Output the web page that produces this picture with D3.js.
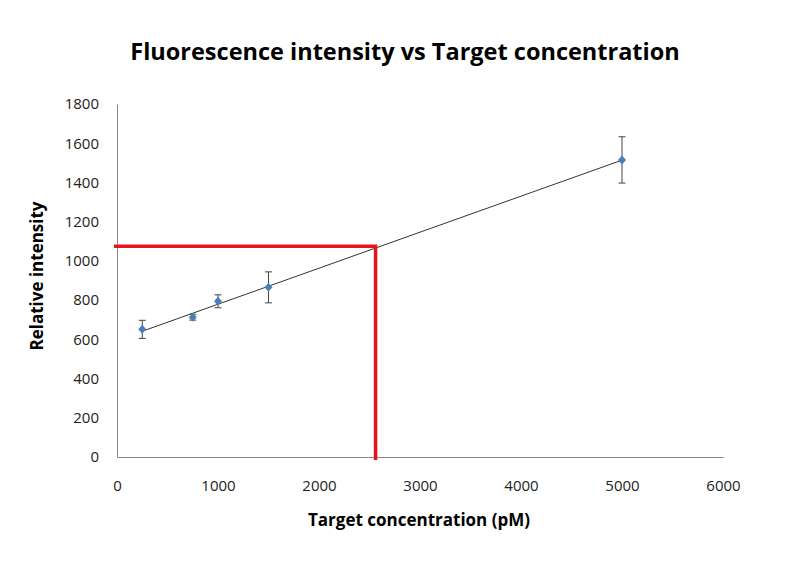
<!DOCTYPE html>
<html lang="en">
<head>
<meta charset="UTF-8">
<script src="https://d3js.org/d3.v7.min.js"></script>
<title>Fluorescence intensity vs Target concentration</title>
<style>
    body { margin: 0; background: white; }
    .axis text { font-family: "Open Sans", sans-serif; font-size: 15px; fill: #222; }
</style>
</head>
<body>
<script>
    // data
    var concentration = [250, 750, 1000, 1500, 5000];
    var intensity = [651, 713, 794, 865, 1515];
    var errors = [46, 15, 33, 79, 118];
    var xTicks = [0, 1000, 2000, 3000, 4000, 5000, 6000];
    var yTicks = [0, 200, 400, 600, 800, 1000, 1200, 1400, 1600, 1800];
    var target = [2560, 1075]; // read-off point (x, y)

    var width = 800, height = 563;

    var svg = d3.select("body").append("svg")
        .attr("width", width)
        .attr("height", height);

    var x = d3.scaleLinear().domain([0, 6000]).range([117, 723]);
    var y = d3.scaleLinear().domain([0, 1800]).range([457, 104]);

    // axes, no tick marks, plain numbers
    svg.append("g").attr("class", "axis")
        .attr("transform", "translate(0," + y(0) + ")")
        .call(d3.axisBottom(x).tickValues(xTicks).tickFormat(d3.format("d")).tickSize(0).tickPadding(23));
    svg.append("g").attr("class", "axis")
        .attr("transform", "translate(" + x(0) + ",0)")
        .call(d3.axisLeft(y).tickValues(yTicks).tickFormat(d3.format("d")).tickSize(0).tickPadding(18));
    svg.selectAll(".axis .domain").attr("stroke", "#888").attr("stroke-width", 1);

    // linear trend line (least squares)
    var mx = d3.mean(concentration), my = d3.mean(intensity);
    var sxy = 0, sxx = 0;
    concentration.forEach(function (c, i) {
        sxy += (c - mx) * (intensity[i] - my);
        sxx += (c - mx) * (c - mx);
    });
    var slope = sxy / sxx, icpt = my - slope * mx;
    var x0 = d3.min(concentration), x1 = d3.max(concentration);
    svg.append("line")
        .attr("x1", x(x0)).attr("y1", y(icpt + slope * x0))
        .attr("x2", x(x1)).attr("y2", y(icpt + slope * x1))
        .attr("stroke", "#333").attr("stroke-width", 1);

    // error bars
    var eb = svg.append("g").attr("stroke", "#444").attr("stroke-width", 1);
    concentration.forEach(function (c, i) {
        var top = y(intensity[i] + errors[i]), bot = y(intensity[i] - errors[i]);
        eb.append("line").attr("x1", x(c)).attr("x2", x(c)).attr("y1", top).attr("y2", bot);
        eb.append("line").attr("x1", x(c) - 3.5).attr("x2", x(c) + 3.5).attr("y1", top).attr("y2", top);
        eb.append("line").attr("x1", x(c) - 3.5).attr("x2", x(c) + 3.5).attr("y1", bot).attr("y2", bot);
    });

    // diamond markers
    svg.selectAll("path.pt")
        .data(concentration)
        .enter()
        .append("path")
        .attr("class", "pt")
        .attr("d", "M0,-4.5L4,0L0,4.5L-4,0Z")
        .attr("transform", function (d, i) { return "translate(" + x(d) + "," + y(intensity[i]) + ")"; })
        .attr("fill", "#4a7ebb");

    // red read-off lines
    svg.append("path")
        .attr("d", "M" + (x(0) - 3) + "," + y(target[1]) + "H" + x(target[0]) + "V" + (y(0) + 3))
        .attr("fill", "none")
        .attr("stroke", "#e8141b")
        .attr("stroke-width", 3.5);

    // titles
    svg.append("text")
        .attr("x", 405).attr("y", 60)
        .attr("text-anchor", "middle")
        .style("font-family", "'Open Sans', sans-serif")
        .style("font-weight", "bold")
        .style("font-size", "23.5px")
        .text("Fluorescence intensity vs Target concentration");

    svg.append("text")
        .attr("x", 419).attr("y", 526)
        .attr("text-anchor", "middle")
        .style("font-family", "'Open Sans', sans-serif")
        .style("font-weight", "bold")
        .style("font-size", "17px")
        .text("Target concentration (pM)");

    svg.append("text")
        .attr("transform", "translate(43,276) rotate(-90)")
        .attr("text-anchor", "middle")
        .style("font-family", "'Open Sans', sans-serif")
        .style("font-weight", "bold")
        .style("font-size", "17px")
        .text("Relative intensity");
</script>
</body>
</html>
